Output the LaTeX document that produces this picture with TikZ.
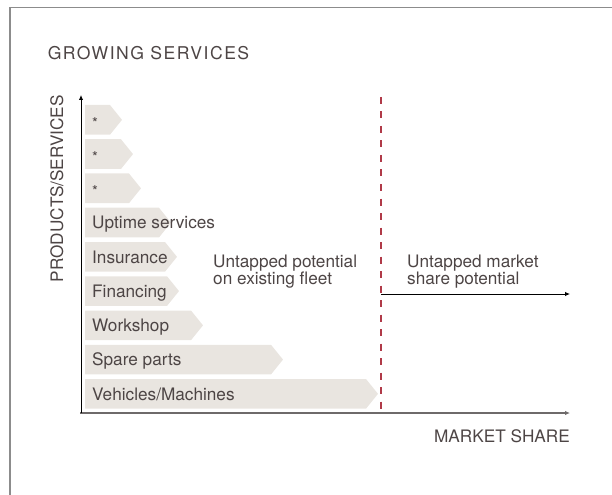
\documentclass[tikz,border=0pt]{standalone}
\usepackage{fontspec}
\setmainfont{TeX Gyre Heros}
\newfontfamily\GsTitleFont[LetterSpace=8.5]{TeX Gyre Heros}
\usepackage{tikz}
\usetikzlibrary{arrows.meta,calc,positioning}
\definecolor{GsBeige}{HTML}{E9E5E0}
\definecolor{GsRed}{HTML}{B03A48}
\definecolor{GsText}{HTML}{4D4545}
\definecolor{GsFrame}{HTML}{8C8C8C}
\definecolor{GsAxis}{HTML}{6E6A6A}
\newcommand{\GsStar}{\raisebox{-2.5bp}{\fontsize{15bp}{15bp}\selectfont *}}
\newcommand{\GsBar}[4]{%
  \fill[GsBeige] (85,#2) -- ({#3-12},#2) -- (#3,{#2+14.85}) -- ({#3-12},{#2+29.7}) -- (85,{#2+29.7}) -- cycle;
  \node[anchor=base west] (#1) at (92,{#2+21}) {#4};}

\begin{document}
\begin{tikzpicture}[x=1bp,y=-1bp,
    every node/.style={inner sep=0pt,text=GsText,font=\fontsize{17.2bp}{17bp}\selectfont},
    tip/.style={-{Latex[length=5bp,width=4.5bp]}}]
  \useasboundingbox (0,0) rectangle (612,495);
  \draw[GsFrame,line width=1.8bp] (10,500) -- (10,7.5) -- (620,7.5);
  \node[anchor=base west,font=\GsTitleFont\fontsize{17.6bp}{18bp}\selectfont] (title) at (47.6,59.3) {GROWING SERVICES};
  % bars
  \GsBar{star1}{105}{122}{\GsStar}
  \GsBar{star2}{139.25}{133}{\GsStar}
  \GsBar{star3}{173.5}{141}{\GsStar}
  \GsBar{uptime}{207.75}{171}{Uptime services}
  \GsBar{insurance}{242}{177}{Insurance}
  \GsBar{financing}{276.25}{179}{Financing}
  \GsBar{workshop}{310.5}{203}{Workshop}
  \GsBar{spare}{344.75}{283}{Spare parts}
  \GsBar{vehicles}{379}{378}{Vehicles/Machines}
  % axes
  \coordinate (origin) at (81,413);
  \coordinate (ytop) at (81,95);
  \coordinate (xstart) at (80,413);
  \coordinate (xend) at (570,413);
  \draw[GsAxis,line width=1.8bp,tip] (xstart) -- (xend);
  \draw[black,line width=0.9bp,tip] (origin) -- (ytop);
  \node[rotate=90,anchor=base east] (ylabel) at (63,95) {PRODUCTS/SERVICES};
  \node[anchor=base east] (xlabel) at (570,442) {MARKET SHARE};
  % market line
  \coordinate (dtop) at (381,97);
  \coordinate (dbot) at (381,413);
  \coordinate (dmid) at (381,294);
  \coordinate (aend) at (570,294);
  \draw[GsRed,line width=2.5bp,dash pattern=on 7bp off 7.5bp] (dtop) -- (dbot);
  \draw[black,line width=0.9bp,tip] (dmid) -- (aend);
  \node[anchor=north west,align=left] (fleet) at (213,254.5) {Untapped potential\\on existing fleet};
  \node[anchor=north west,align=left] (market) at (407,254.5) {Untapped market\\share potential};
\end{tikzpicture}
\end{document}
